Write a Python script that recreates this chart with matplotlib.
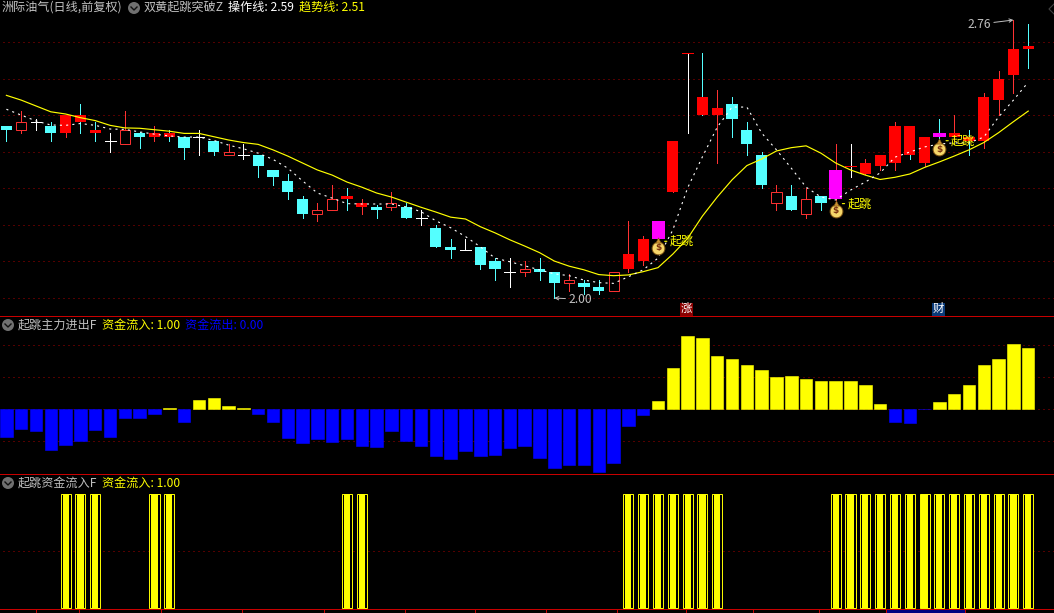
import matplotlib
matplotlib.use("Agg")
import matplotlib.pyplot as plt
from matplotlib.patches import Circle, Rectangle

plt.rcParams['font.family'] = ['Noto Sans CJK SC', 'DejaVu Sans']
plt.rcParams['lines.scale_dashes'] = False

# ---------- data ----------
body_top = [2.47,2.48,2.48,2.47,2.50,2.50,2.46,2.43,2.46,2.45,2.45,2.45,2.44,2.44,2.43,2.40,2.39,2.39,2.35,2.32,
            2.27,2.24,2.27,2.28,2.26,2.25,2.26,2.25,2.22,2.19,2.14,2.13,2.14,2.10,2.07,2.08,2.08,2.07,2.05,2.04,
            2.03,2.07,2.12,2.16,2.21,2.43,2.67,2.55,2.52,2.53,2.46,2.39,2.29,2.28,2.27,2.28,2.35,2.36,2.37,2.39,
            2.47,2.47,2.44,2.45,2.45,2.44,2.55,2.60,2.68,2.69]
body_bottom = [2.46,2.46,2.48,2.45,2.45,2.48,2.45,2.43,2.42,2.44,2.44,2.44,2.41,2.44,2.40,2.39,2.39,2.36,2.33,2.29,
               2.23,2.23,2.24,2.27,2.25,2.24,2.25,2.22,2.22,2.14,2.13,2.13,2.09,2.08,2.07,2.07,2.07,2.04,2.04,2.03,
               2.02,2.02,2.08,2.10,2.16,2.29,2.67,2.50,2.50,2.49,2.42,2.31,2.26,2.24,2.23,2.26,2.27,2.36,2.34,2.36,
               2.37,2.39,2.37,2.44,2.44,2.43,2.43,2.54,2.61,2.68]
high = [2.47,2.51,2.49,2.48,2.50,2.53,2.48,2.45,2.51,2.454,2.47,2.46,2.44,2.46,2.43,2.42,2.42,2.39,2.35,2.34,
        2.28,2.26,2.31,2.30,2.27,2.255,2.29,2.26,2.24,2.20,2.16,2.16,2.14,2.11,2.11,2.10,2.11,2.07,2.065,2.05,
        2.05,2.07,2.21,2.17,2.21,2.43,2.67,2.67,2.57,2.55,2.48,2.40,2.31,2.31,2.30,2.28,2.42,2.42,2.38,2.39,
        2.48,2.47,2.44,2.49,2.50,2.46,2.56,2.62,2.76,2.75]
low = [2.43,2.45,2.46,2.43,2.44,2.45,2.43,2.40,2.42,2.41,2.43,2.43,2.38,2.39,2.39,2.39,2.38,2.33,2.31,2.27,
       2.22,2.21,2.24,2.24,2.23,2.22,2.24,2.22,2.20,2.14,2.11,2.13,2.08,2.05,2.03,2.06,2.05,2.00,2.02,2.01,
       2.01,2.02,2.07,2.09,2.16,2.29,2.45,2.50,2.37,2.44,2.39,2.30,2.24,2.24,2.22,2.24,2.26,2.33,2.34,2.35,
       2.35,2.38,2.36,2.43,2.43,2.39,2.41,2.50,2.56,2.63]
candle_kind = list("CHWCRRRWHCRRCWCHWCCCCHHRRCHCWCCWCCWHCCHCCHRRMRDRRCCCHCHCMDRRRRRMRRRRRR")
cyan_wick_bars = [5, 6, 11, 23, 47, 61, 63, 65, 69]

trend_line = [2.554,2.541,2.525,2.509,2.503,2.493,2.485,2.472,2.465,2.464,2.460,2.456,2.450,2.450,2.441,2.432,2.425,2.420,2.405,2.388,
              2.369,2.350,2.336,2.317,2.303,2.287,2.276,2.262,2.248,2.235,2.221,2.216,2.195,2.178,2.159,2.142,2.124,2.101,2.087,2.077,
              2.064,2.061,2.063,2.072,2.083,2.120,2.163,2.224,2.276,2.323,2.362,2.380,2.402,2.411,2.416,2.396,2.369,2.350,2.336,2.324,
              2.330,2.339,2.357,2.372,2.388,2.405,2.425,2.452,2.482,2.511]
operate_line = [2.516,2.500,2.484,2.473,2.472,2.477,2.472,2.462,2.461,2.454,2.448,2.443,2.440,2.440,2.431,2.418,2.408,2.396,2.379,2.355,
                2.320,2.287,2.273,2.258,2.257,2.257,2.257,2.249,2.236,2.211,2.192,2.168,2.140,2.109,2.099,2.088,2.077,2.066,2.061,2.049,
                2.042,2.040,2.058,2.077,2.109,2.186,2.301,2.386,2.467,2.522,2.522,2.451,2.405,2.355,2.303,2.276,2.268,2.295,2.317,2.342,
                2.385,2.399,2.413,2.421,2.424,2.424,2.440,2.495,2.541,2.590]

flow_value = [-0.89,-0.64,-0.70,-1.29,-1.14,-1.02,-0.66,-0.89,-0.29,-0.29,-0.16,0.01,-0.41,0.27,0.33,0.08,0.01,-0.16,-0.41,-0.91,
              -1.08,-0.95,-1.05,-0.95,-1.17,-1.20,-0.70,-1.02,-1.17,-1.48,-1.58,-1.33,-1.48,-1.45,-1.23,-1.17,-1.55,-1.86,-1.77,-1.77,
              -1.98,-1.70,-0.55,-0.20,0.23,1.27,2.27,2.20,1.64,1.55,1.36,1.20,0.98,1.02,0.92,0.86,0.86,0.86,0.73,0.14,
              -0.42,-0.45,-0.01,0.20,0.45,0.73,1.36,1.55,2.02,1.89]
inflow_flag = [0,0,0,0,1,1,1,0,0,0,1,1,0,0,0,0,0,0,0,0,
               0,0,0,1,1,0,0,0,0,0,0,0,0,0,0,0,0,0,0,0,
               0,0,1,1,1,1,1,1,1,0,0,0,0,0,0,0,1,1,1,1,
               1,1,1,1,1,1,1,1,1,1]

jump_bars = [44, 56, 63]
jump_bag_price = [2.137, 2.238, 2.407]
jump_label_price = [2.155, 2.258, 2.43]
date_ticks = [2, 4.92, 10.46, 15.93, 21.47, 26.9, 31.66, 36.45, 41.2, 45.9, 50.4, 54.9, 59.4, 64.75]
price_grid = [2.0, 2.1, 2.2, 2.3, 2.4, 2.5, 2.6, 2.7]
flow_grid = [2, 1, 0, -1]
low_bar, low_price = 37, 2.00
high_bar, high_price = 68, 2.76

# ---------- style ----------
W, H = 1054, 613
RED, HOLLOW, CYAN, YEL, MAG, BLUE = '#ff0000', '#ff3232', '#54ffff', '#ffff00', '#ff00ff', '#0000ff'
SEP, GRID, GREY = '#c80000', '#a80000', '#c0c0c0'
DOT = (0, (0.72, 2.88))
FS = 8.7
THIN = 0.7

fig = plt.figure(figsize=(W / 100, H / 100), dpi=100, facecolor='black')
def pane(top, bottom):
    ax = fig.add_axes([0, 1 - bottom / H, 1, (bottom - top) / H], facecolor='black')
    ax.set_xlim(-0.432, 70.74)
    for s in ax.spines.values():
        s.set_visible(False)
    ax.set_yticks([])
    ax.set_xticks([])
    return ax

ax1 = pane(0, 316.5)
ax2 = pane(316.5, 474.5)
ax3 = pane(474.5, 609.5)
ax1.set_ylim(1.9494, 2.8147)
ax2.set_ylim(-2.0625, 2.875)
ax3.set_ylim(-0.0158, 1.1715)

for ax, levels in ((ax1, price_grid), (ax2, flow_grid), (ax3, [0.5])):
    for v in levels:
        ax.axhline(v, color=GRID, lw=0.72, ls=DOT, zorder=1, xmin=0.003)

# candles
for i, k in enumerate(candle_kind):
    wc = {'C': CYAN, 'R': HOLLOW, 'H': HOLLOW, 'M': HOLLOW, 'W': 'white', 'D': 'white'}[k]
    if i in cyan_wick_bars:
        wc = CYAN
    ax1.vlines(i, low[i], high[i], color=wc, lw=THIN, zorder=2, antialiased=False)
    t, b = body_top[i], body_bottom[i]
    if k in 'WD':
        ax1.hlines(t, i - 0.37, i + 0.37, color='white' if k == 'W' else RED, lw=THIN, zorder=3, antialiased=False)
    elif k == 'H':
        ax1.add_patch(Rectangle((i - 0.34, b), 0.68, t - b, fc='black', ec=HOLLOW, lw=THIN, zorder=3))
    else:
        c = {'C': CYAN, 'R': RED, 'M': MAG}[k]
        w = 0.878 if k == 'M' else 0.76
        ax1.bar(i, t - b, w, b, color=c, lw=0, zorder=3)

xs = list(range(len(trend_line)))
ax1.plot(xs, trend_line, color=YEL, lw=0.85, zorder=4)
ax1.plot(xs, operate_line, color='white', lw=0.8, ls=(0, (1.5, 3.0)), zorder=5)

# money bags and labels
for b, bp, lp in zip(jump_bars, jump_bag_price, jump_label_price):
    ax1.annotate('起跳', xy=(b + 0.45, lp), xytext=(3.6, 0), textcoords='offset points',
                 color=YEL, fontsize=FS, va='center', ha='left', zorder=7,
                 arrowprops=dict(arrowstyle='-', color=YEL, lw=0.8, shrinkA=0, shrinkB=0))
    ax1.scatter([b], [bp], s=85, fc='#f6d76a', ec='#7a5010', lw=0.7, zorder=6)
    ax1.scatter([b], [bp + 0.021], s=14, marker='^', fc='#c89030', ec='#7a5010', lw=0.4, zorder=6)
    ax1.text(b, bp, '$', color='#7a3010', fontsize=6.5, fontweight='bold', ha='center', va='center', zorder=7,
             family='DejaVu Sans')

ax1.annotate('2.00', xy=(low_bar, low_price), xytext=(10, -1), textcoords='offset points', color=GREY,
             fontsize=FS, va='center', ha='left', zorder=7,
             arrowprops=dict(arrowstyle='->', color=GREY, lw=0.7, shrinkA=0, shrinkB=0, mutation_scale=6))
ax1.annotate('2.76', xy=(high_bar, high_price), xytext=(-33, -3), textcoords='offset points', color=GREY,
             fontsize=FS, va='center', ha='left', zorder=7,
             arrowprops=dict(arrowstyle='->', color=GREY, lw=0.7, shrinkA=0, shrinkB=0, mutation_scale=6))

# flow bars
for i, v in enumerate(flow_value):
    c = YEL if v > 0 else BLUE
    ax2.bar(i, v, 0.84, color=c, ec=c, lw=0.4, zorder=3)

# inflow bars
for i, f in enumerate(inflow_flag):
    if f:
        ax3.bar(i, f, 0.68, fc='black', ec=YEL, lw=THIN, zorder=3)
        ax3.bar(i, f, 0.42, color=YEL, lw=0, zorder=4)

# date ticks under bottom pane
ov = fig.add_axes([0, 0, 1, 1], facecolor='none')
ov.set_xlim(0, W)
ov.set_ylim(H, 0)
ov.axis('off')
ov.add_patch(Rectangle((887, 610), 78, 3, fc='#000080', lw=0))
for t in date_ticks:
    px = (t + 0.432) / 71.172 * W
    ov.add_patch(Rectangle((round(px), 610), 1, 3, fc=SEP, lw=0))
for y in (316, 474, 609):
    ov.add_patch(Rectangle((0, y), W, 1, fc=SEP, lw=0))

# header texts
def label(x, y, s, c):
    ov.text(x, y, s, color=c, fontsize=FS, va='center', ha='left')

def icon(x, y):
    ov.add_patch(Circle((x, y), 6, fc='#707070', ec='none'))
    ov.plot([x - 3, x, x + 3], [y - 1, y + 2, y - 1], color='#101010', lw=1.0)

label(2, 7.5, '洲际油气(日线,前复权)', GREY)
icon(134, 8)
label(144, 7.5, '双黄起跳突破Z', GREY)
label(228, 7.5, '操作线: 2.59', 'white')
label(299, 7.5, '趋势线: 2.51', YEL)
icon(8, 325)
label(18, 325, '起跳主力进出F', GREY)
label(102, 325, '资金流入: 1.00', YEL)
label(185, 325, '资金流出: 0.00', BLUE)
icon(8, 483)
label(18, 483, '起跳资金流入F', GREY)
label(102, 483, '资金流入: 1.00', YEL)
ov.plot([1054, 1049, 1054], [4, 9, 14], color='#404040', lw=0.8)

# badges
for x, s, bg in ((686.5, '涨', '#8a0000'), (938.5, '财', '#0a3a78')):
    ov.add_patch(Rectangle((x - 6.5, 302.5), 13, 13, fc=bg, lw=0))
    ov.text(x, 308.7, s, color='white', fontsize=8.2, ha='center', va='center')

fig.savefig('out.png', dpi=100, facecolor='black')
